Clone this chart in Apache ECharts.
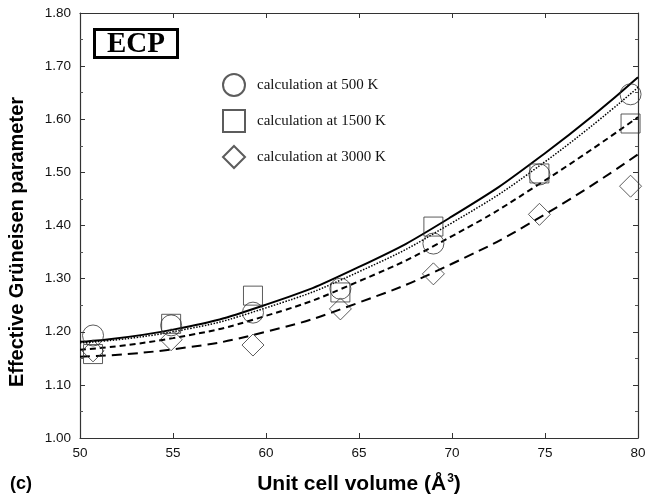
<!DOCTYPE html>
<html>
<head>
<meta charset="utf-8">
<script src="https://cdn.jsdelivr.net/npm/echarts@6/dist/echarts.min.js"></script>
<style>
  html, body { margin: 0; padding: 0; background: #fff; }
  #chart { width: 647px; height: 497px; }
</style>
</head>
<body>
<div id="chart"></div>
<script>
// Calculated effective Grüneisen parameter vs. unit cell volume
const volumes = [50.7, 54.9, 59.3, 64.0, 69.0, 74.7, 79.6];
const gamma500 = [1.193, 1.212, 1.236, 1.281, 1.366, 1.496, 1.647];
const gamma1500 = [1.158, 1.215, 1.268, 1.274, 1.398, 1.498, 1.592];
const gamma3000 = [1.164, 1.185, 1.175, 1.243, 1.309, 1.421, 1.474];

// Fitted curves, read at whole-number volumes
const fitVolumes = [50, 55, 60, 65, 70, 75, 80];
const fitSolid = [1.181, 1.204, 1.251, 1.322, 1.417, 1.536, 1.679];
const fitDotted = [1.179, 1.200, 1.245, 1.313, 1.405, 1.520, 1.660];
const fitShortDash = [1.166, 1.188, 1.230, 1.295, 1.380, 1.485, 1.604];
const fitLongDash = [1.153, 1.167, 1.200, 1.255, 1.328, 1.421, 1.534];

const yTicks = ['1.00', '1.10', '1.20', '1.30', '1.40', '1.50', '1.60', '1.70', '1.80'];
const seriesNames = ['calculation at 500 K', 'calculation at 1500 K', 'calculation at 3000 K'];

const pairs = (xs, ys) => xs.map((x, i) => [x, ys[i]]);

const chart = echarts.init(document.getElementById('chart'), null, { renderer: 'canvas' });

const sans = 'Liberation Sans, Arial, sans-serif';
const serif = 'Liberation Serif, Times New Roman, serif';
const axisLine = { show: true, lineStyle: { color: '#333', width: 1.2 } };
const tick = { show: true, inside: true, length: 5, lineStyle: { color: '#333', width: 1 } };
const minor = { show: true, splitNumber: 2, length: 3, lineStyle: { color: '#555', width: 1 } };
const labelFont = { fontFamily: sans, fontSize: 13.5, color: '#111' };

function markerSeries(name, data, symbol, size) {
  return {
    name: name,
    type: 'scatter',
    data: data,
    symbol: symbol,
    symbolSize: size,
    itemStyle: { color: 'rgba(255,255,255,0)', borderColor: '#333', borderWidth: 1 },
    z: 3
  };
}

function fitSeries(data, type, width) {
  return {
    type: 'line',
    data: data,
    smooth: true,
    showSymbol: false,
    silent: true,
    lineStyle: { color: '#000', width: width, type: type },
    z: 2
  };
}

chart.setOption({
  backgroundColor: '#fff',
  animation: false,
  grid: { left: 80, right: 9, top: 13, bottom: 59, outerBoundsMode: 'none', containLabel: false },
  legend: {
    orient: 'vertical',
    left: 217,
    top: 68,
    itemGap: 12,
    itemWidth: 22,
    itemHeight: 22,
    textStyle: { fontFamily: serif, fontSize: 15, color: '#111', padding: [0, 0, 0, 7] },
    data: [
      { name: seriesNames[0], icon: 'circle' },
      { name: seriesNames[1], icon: 'rect' },
      { name: seriesNames[2], icon: 'diamond' }
    ]
  },
  xAxis: [{
    type: 'value',
    min: 50, max: 80, interval: 5,
    name: 'Unit cell volume (Å{sup|3})',
    nameLocation: 'middle',
    nameGap: 35,
    nameTextStyle: {
      fontFamily: sans, fontSize: 21, fontWeight: 'bold', color: '#000',
      rich: { sup: { fontFamily: sans, fontSize: 12, fontWeight: 'bold', verticalAlign: 'top', padding: [0, 0, 10, 1] } }
    },
    axisLine: axisLine,
    axisTick: tick,
    axisLabel: Object.assign({ margin: 8 }, labelFont),
    splitLine: { show: false }
  }, {
    type: 'value',
    position: 'top',
    min: 50, max: 80, interval: 5,
    axisLine: axisLine,
    axisTick: tick,
    axisLabel: { show: false },
    splitLine: { show: false }
  }],
  yAxis: [{
    type: 'value',
    min: 1.0, max: 1.8, interval: 0.1,
    axisLine: axisLine,
    axisTick: tick,
    minorTick: minor,
    axisLabel: Object.assign({
      margin: 9,
      formatter: (v) => yTicks[Math.round((v - 1.0) * 10)]
    }, labelFont),
    splitLine: { show: false }
  }, {
    type: 'value',
    position: 'right',
    min: 1.0, max: 1.8, interval: 0.1,
    axisLine: axisLine,
    axisTick: tick,
    minorTick: minor,
    axisLabel: { show: false },
    splitLine: { show: false }
  }],
  graphic: [{
    type: 'text',
    left: 93,
    top: 28,
    style: {
      text: 'ECP',
      fontFamily: serif,
      fontSize: 29,
      lineHeight: 23,
      fontWeight: 'bold',
      fill: '#000',
      borderColor: '#000',
      borderWidth: 3,
      padding: [2, 11, 0, 11],
      backgroundColor: '#fff'
    },
    z: 10
  }, {
    type: 'text',
    x: 17,
    y: 242,
    rotation: Math.PI / 2,
    style: {
      text: 'Effective Grüneisen parameter',
      fontFamily: sans,
      fontSize: 20,
      fontWeight: 'bold',
      fill: '#000',
      align: 'center',
      verticalAlign: 'middle'
    }
  }, {
    type: 'text',
    left: 10,
    top: 475,
    style: {
      text: '(c)',
      fontFamily: sans,
      fontSize: 18,
      fontWeight: 'bold',
      fill: '#000'
    }
  }],
  series: [
    fitSeries(pairs(fitVolumes, fitSolid), 'solid', 2),
    fitSeries(pairs(fitVolumes, fitDotted), [1.5, 1.5], 1.5),
    fitSeries(pairs(fitVolumes, fitShortDash), [6, 4], 2),
    fitSeries(pairs(fitVolumes, fitLongDash), [10, 6], 2),
    markerSeries(seriesNames[0], pairs(volumes, gamma500), 'circle', 21),
    markerSeries(seriesNames[1], pairs(volumes, gamma1500), 'rect', 19),
    markerSeries(seriesNames[2], pairs(volumes, gamma3000), 'diamond', 22)
  ]
});
</script>
</body>
</html>
